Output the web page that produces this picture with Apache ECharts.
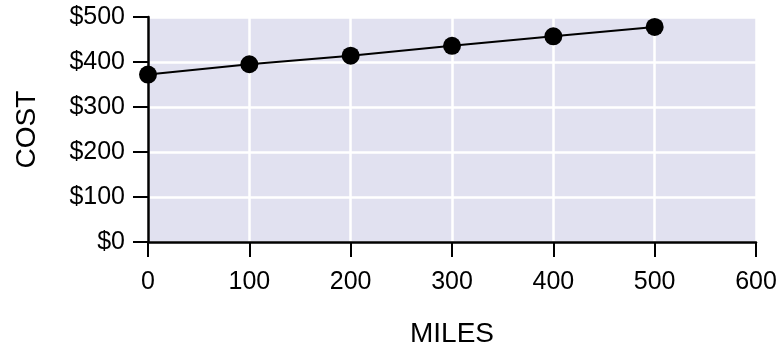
<!DOCTYPE html>
<html>
<head>
<meta charset="utf-8">
<script src="https://cdn.jsdelivr.net/npm/echarts@6/dist/echarts.min.js"></script>
<style>html,body{margin:0;padding:0;background:#fff}#c{width:783px;height:350px}</style>
</head>
<body>
<div id="c"></div>
<script>
const miles = [0, 100, 200, 300, 400, 500];
const cost = [372, 395, 414, 436, 457, 478];
const xName = 'MILES';
const yName = 'COST';

const chart = echarts.init(document.getElementById('c'), null, {renderer: 'canvas'});
const font = 'Liberation Sans, Arial, Helvetica, sans-serif';
chart.setOption({
  animation: false,
  grid: {left: 148, right: 27, top: 17, bottom: 108, show: true, backgroundColor: '#e1e1f0', borderWidth: 0, outerBoundsMode: 'none', containLabel: false},
  xAxis: {
    type: 'value', min: 0, max: 600, interval: 100,
    name: xName, nameLocation: 'middle', nameGap: 78,
    nameTextStyle: {fontFamily: font, fontSize: 28, color: '#000'},
    axisLine: {show: true, lineStyle: {color: '#000', width: 2.5}},
    axisTick: {show: true, length: 15, lineStyle: {color: '#000', width: 2}},
    axisLabel: {fontFamily: font, fontSize: 25, color: '#000', margin: 28},
    splitLine: {show: true, lineStyle: {color: '#fff', width: 2.5}}
  },
  yAxis: {
    type: 'value', min: 0, max: 500, interval: 100,
    name: yName, nameLocation: 'middle', nameGap: 107,
    nameTextStyle: {fontFamily: font, fontSize: 28, color: '#000'},
    axisLine: {show: true, lineStyle: {color: '#000', width: 2.5}},
    axisTick: {show: true, length: 15, lineStyle: {color: '#000', width: 2}},
    axisLabel: {fontFamily: font, fontSize: 25, color: '#000', margin: 23, formatter: v => '$' + v},
    splitLine: {show: true, lineStyle: {color: '#fff', width: 2.5}}
  },
  series: [{
    type: 'line',
    data: miles.map((m, i) => [m, cost[i]]),
    symbol: 'circle', symbolSize: 18,
    itemStyle: {color: '#000'},
    lineStyle: {color: '#000', width: 2}
  }]
});
</script>
</body>
</html>
